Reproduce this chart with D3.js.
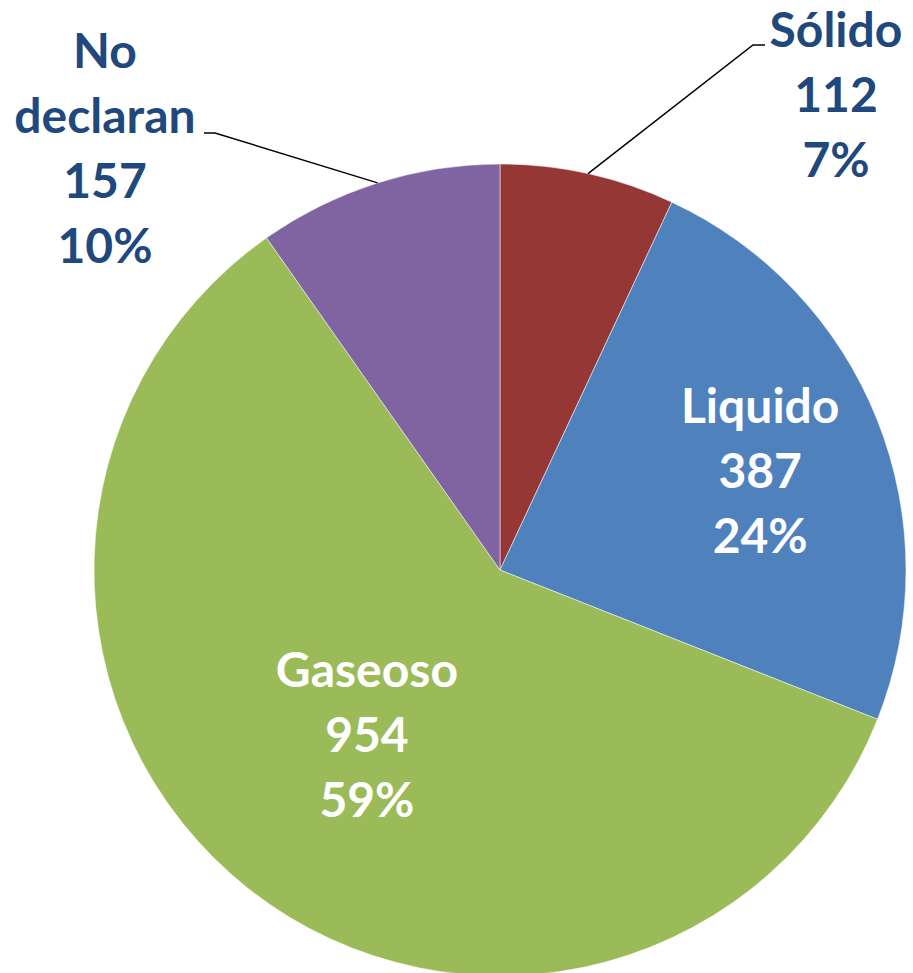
<!DOCTYPE html>
<html>
<head>
<meta charset="utf-8">
<script src="https://cdn.jsdelivr.net/npm/d3@7"></script>
<style>
  body { margin: 0; background: #fff; }
  svg text { font-family: Lato, "Open Sans", sans-serif; font-weight: bold; }
</style>
</head>
<body>
<div id="chart"></div>
<script>
let width = 913;
let height = 973;

let categories = ["Sólido", "Liquido", "Gaseoso", "No declaran"];
let values = [112, 387, 954, 157];
let percents = ["7%", "24%", "59%", "10%"];
let colours = ["#953735", "#4F81BD", "#9BBB59", "#8064A2"];

let cx = 500, cy = 570, radius = 406;

let svg = d3.select("#chart").append("svg")
    .attr("width", width)
    .attr("height", height);

let pie = d3.pie().sort(null).value(d => d.value);
let arc = d3.arc().innerRadius(0).outerRadius(radius);

let data = categories.map((c, i) => ({name: c, value: values[i], pct: percents[i], colour: colours[i]}));
let arcs = pie(data);

let g = svg.append("g").attr("transform", `translate(${cx},${cy})`);

g.selectAll("path")
    .data(arcs)
    .enter()
    .append("path")
        .attr("d", arc)
        .style("fill", d => d.data.colour)
        .style("stroke", "rgba(255,255,255,0.5)")
        .style("stroke-width", "1px");

// label placement: inside labels sit on the slice's mid angle, outside ones get a leader line
let labelLayout = [
    {inside: false, x: 836, y: 47, lines: ["Sólido"], bend: [753, 45], end: 765},
    {inside: true, rho: 280, dy: 21},
    {inside: true, rho: 215, dy: 13},
    {inside: false, x: 105, y: 68, lines: ["No", "declaran"], bend: [215, 133], end: 204}
];
let lineStep = 65;

function midAngle(d){ return (d.startAngle + d.endAngle) / 2; }

arcs.forEach((d, i) => {
    let lay = labelLayout[i];
    let a = midAngle(d);
    if (lay.inside) {
        let x = cx + lay.rho * Math.sin(a);
        let y = cy - lay.rho * Math.cos(a);
        let lines = [d.data.name, d.data.value, d.data.pct];
        let t = svg.append("text")
            .attr("text-anchor", "middle")
            .style("fill", "white")
            .style("font-size", "48px");
        lines.forEach((l, j) => {
            t.append("tspan")
                .attr("x", x)
                .attr("y", y + (j - 1) * lineStep + lay.dy)
                .text(l);
        });
    } else {
        let sx = cx + radius * Math.sin(a);
        let sy = cy - radius * Math.cos(a);
        svg.append("polyline")
            .attr("points", `${sx},${sy} ${lay.bend[0]},${lay.bend[1]} ${lay.end},${lay.bend[1]}`)
            .style("fill", "none")
            .style("stroke", "black")
            .style("stroke-width", "1.5px");
        let lines = lay.lines.concat([d.data.value, d.data.pct]);
        let t = svg.append("text")
            .attr("text-anchor", "middle")
            .style("fill", "#1F497D")
            .style("font-size", "48px");
        lines.forEach((l, j) => {
            t.append("tspan")
                .attr("x", lay.x)
                .attr("y", lay.y + j * lineStep)
                .text(l);
        });
    }
});
</script>
</body>
</html>
